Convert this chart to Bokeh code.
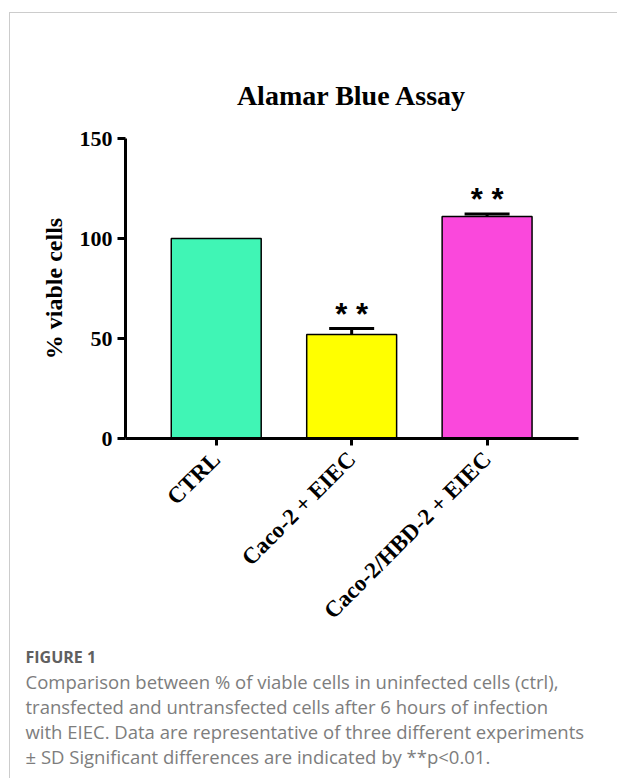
from math import pi

from bokeh.core.properties import value
from bokeh.embed import file_html
from bokeh.layouts import column
from bokeh.models import ColumnDataSource, FixedTicker, Label, Range1d, TeeHead, Whisker
from bokeh.plotting import figure
from bokeh.resources import INLINE

# ---- data -------------------------------------------------------------
categories = ["CTRL", "Caco-2 + EIEC", "Caco-2/HBD-2 + EIEC"]
viable_pct = [100, 52, 111]
viable_sd = [0, 3, 1.3]
significance = ["", "* *", "* *"]
bar_colors = ["#40F5B5", "#FFFF00", "#FA48DC"]
y_ticks = [0, 50, 100, 150]

chart_title = "Alamar Blue Assay"
y_title = "% viable cells"
caption_head = "FIGURE 1"
caption_lines = [
    "Comparison between % of viable cells in uninfected cells (ctrl),",
    "transfected and untransfected cells after 6 hours of infection",
    "with EIEC. Data are representative of three different experiments",
    "\u00b1 SD Significant differences are indicated by **p<0.01.",
]

SERIF = "Liberation Serif"
CAPTION_FONT = "Open Sans"
CARD = "#cccccc"

W = 617
CHART_H = 640
CAPTION_H = 778 - CHART_H


def card_background(top_line, height):
    """Thin grey card edge (left side, optionally top) painted behind a canvas."""
    if top_line:
        return {
            "background-color": "white",
            "background-image": f"linear-gradient({CARD},{CARD}), linear-gradient({CARD},{CARD})",
            "background-size": f"{W - 9}px 1px, 1px {height - 12}px",
            "background-position": "9px 12px, 9px 12px",
            "background-repeat": "no-repeat",
        }
    return {
        "background-color": "white",
        "background-image": f"linear-gradient({CARD},{CARD})",
        "background-size": f"1px {height}px",
        "background-position": "9px 0px",
        "background-repeat": "no-repeat",
    }


# ---- bar chart ----------------------------------------------------------
positions = list(range(len(categories)))
upper = [v + s for v, s in zip(viable_pct, viable_sd)]
src = ColumnDataSource(dict(x=positions, top=viable_pct, color=bar_colors))

p = figure(width=W, height=CHART_H,
           x_range=Range1d(-0.67, 2.675), y_range=Range1d(0, 150),
           output_backend="svg", toolbar_location=None,
           min_border_left=125, min_border_right=39,
           min_border_top=138, min_border_bottom=CHART_H - 438,
           styles=card_background(True, CHART_H))
p.frame_align = False
p.border_fill_color = None
p.background_fill_color = None
p.outline_line_color = None
p.xgrid.visible = False
p.ygrid.visible = False

p.title.text = chart_title
p.title.align = "center"
p.title.text_font = SERIF
p.title.text_font_style = "bold"
p.title.text_font_size = "28px"
p.title.text_color = "black"
p.title.standoff = 55

p.vbar(x="x", top="top", bottom=0, width=0.664, fill_color="color",
       line_color="black", line_width=1.5, source=src)

# upper SD whiskers
err_src = ColumnDataSource(dict(x=positions[1:], lo=viable_pct[1:], hi=upper[1:]))
p.add_layout(Whisker(base="x", lower="lo", upper="hi", source=err_src,
                     lower_head=None,
                     upper_head=TeeHead(size=45, line_width=3, line_color="black"),
                     line_width=3, line_color="black"))

# significance stars
for i, (mark, top) in enumerate(zip(significance, upper)):
    if mark:
        p.add_layout(Label(x=i, y=top + 7, text=mark, text_align="center",
                           text_baseline="middle", text_font="Liberation Sans",
                           text_font_style="bold", text_font_size="31px",
                           text_color="black"))

for ax in (p.xaxis[0], p.yaxis[0]):
    ax.axis_line_width = 3
    ax.axis_line_color = "black"
    ax.major_tick_line_width = 3
    ax.major_tick_line_color = "black"
    ax.major_tick_in = 0
    ax.minor_tick_line_color = None
    ax.major_label_text_font = SERIF
    ax.major_label_text_font_style = "bold"
    ax.major_label_text_color = "black"

p.yaxis.ticker = FixedTicker(ticks=y_ticks)
p.yaxis.major_tick_out = 8
p.yaxis.major_label_text_font_size = "22px"
p.yaxis.major_label_standoff = 5
p.yaxis.axis_label = y_title
p.yaxis.axis_label_text_font = SERIF
p.yaxis.axis_label_text_font_style = "bold"
p.yaxis.axis_label_text_font_size = "24px"
p.yaxis.axis_label_text_color = "black"
p.yaxis.axis_label_standoff = 10

p.xaxis.ticker = FixedTicker(ticks=positions)
p.xaxis.major_label_overrides = {i: c for i, c in enumerate(categories)}
p.xaxis.major_tick_out = 7
p.xaxis.major_label_text_font_size = "23px"
p.xaxis.major_label_orientation = pi / 4
p.xaxis.major_label_standoff = 10

# ---- caption ------------------------------------------------------------
cap = figure(width=W, height=CAPTION_H,
             x_range=Range1d(0, W), y_range=Range1d(CAPTION_H, 0),
             output_backend="svg", toolbar_location=None,
             min_border=0, styles=card_background(False, CAPTION_H))
cap.frame_align = False
cap.border_fill_color = None
cap.background_fill_color = None
cap.outline_line_color = None
cap.axis.visible = False
cap.grid.visible = False

cap.text(x=[25], y=[16], text=[caption_head], text_baseline="alphabetic",
         text_font=value(CAPTION_FONT), text_font_style="bold",
         text_font_size="16px", text_color="#606060")
cap.text(x=[25] * len(caption_lines),
         y=[41 + 25 * k for k in range(len(caption_lines))],
         text=caption_lines, text_baseline="alphabetic",
         text_font=value(CAPTION_FONT), text_font_size="18.5px",
         text_color="#7d7d7d")

layout = column(p, cap, spacing=0)
open("out.html", "w").write(file_html(layout, INLINE))
